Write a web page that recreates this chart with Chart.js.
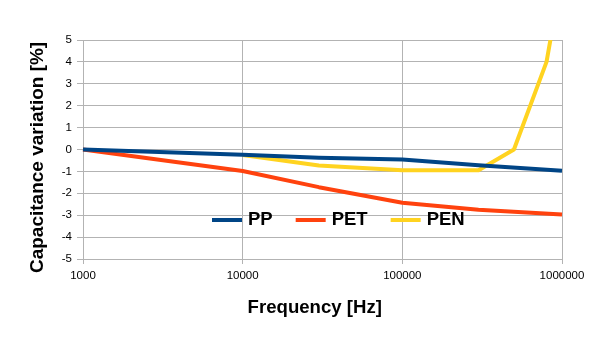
<!DOCTYPE html>
<html><head><meta charset="utf-8">
<script src="https://cdn.jsdelivr.net/npm/chart.js@4.4.0/dist/chart.umd.min.js"></script>
<style>html,body{margin:0;padding:0;background:#fff;} canvas{display:block;}</style>
</head><body>
<canvas id="c" width="605" height="340"></canvas>
<script>
const frequencyTicks = [1000, 10000, 100000, 1000000];
const frequencyTickLabels = ['1000', '10000', '100000', '1000000'];
const seriesNames = ['PP', 'PET', 'PEN'];
const ppFreq = [1000, 10000, 30000, 100000, 300000, 1000000];
const ppValues = [0, -0.24, -0.38, -0.46, -0.72, -0.97];
const petFreq = [1000, 10000, 30000, 100000, 300000, 1000000];
const petValues = [0, -0.98, -1.72, -2.43, -2.75, -2.97];
const penFreq = [10000, 30000, 100000, 300000, 500000, 800000, 1000000];
const penValues = [-0.25, -0.73, -0.95, -0.95, 0, 4, 8];
const yMin = -5, yMax = 5, yStep = 1;
const xTitle = 'Frequency [Hz]';
const yTitle = 'Capacitance variation [%]';
const seriesColors = ['#004586', '#ff420e', '#ffd320'];

Chart.defaults.font.family = "'Liberation Sans', Arial, sans-serif";
Chart.defaults.color = '#000';

function pts(f, v) { return f.map((x, i) => ({ x: x, y: v[i] })); }

const legendPlugin = {
  id: 'inlineLegend',
  afterDraw(chart) {
    const ctx = chart.ctx;
    const y = 220;
    let x = 212;
    ctx.save();
    ctx.font = "bold 18.5px 'Liberation Sans', Arial, sans-serif";
    ctx.textBaseline = 'middle';
    ctx.textAlign = 'left';
    chart.data.datasets.forEach(ds => {
      ctx.strokeStyle = ds.borderColor;
      ctx.lineWidth = 4;
      ctx.lineCap = 'butt';
      ctx.beginPath(); ctx.moveTo(x, y); ctx.lineTo(x + 30, y); ctx.stroke();
      x += 36;
      ctx.fillStyle = '#000';
      ctx.fillText(ds.label, x, y);
      x += ctx.measureText(ds.label).width + 23;
    });
    ctx.restore();
  }
};

const common = { borderWidth: 4, pointRadius: 0, tension: 0, fill: false,
  borderJoinStyle: 'round', borderCapStyle: 'butt',
  clip: { left: 3, top: 0, right: 3, bottom: 3 } };

new Chart(document.getElementById('c'), {
  type: 'line',
  data: {
    datasets: [
      Object.assign({ label: seriesNames[0], data: pts(ppFreq, ppValues), borderColor: seriesColors[0], backgroundColor: seriesColors[0] }, common),
      Object.assign({ label: seriesNames[1], data: pts(petFreq, petValues), borderColor: seriesColors[1], backgroundColor: seriesColors[1] }, common),
      Object.assign({ label: seriesNames[2], data: pts(penFreq, penValues), borderColor: seriesColors[2], backgroundColor: seriesColors[2] }, common)
    ]
  },
  options: {
    responsive: false,
    animation: false,
    devicePixelRatio: 1,
    layout: { padding: { left: 20, right: 43, top: 40, bottom: 15 } },
    plugins: { legend: { display: false }, tooltip: { enabled: false } },
    scales: {
      x: {
        type: 'logarithmic', min: 1000, max: 1000000,
        afterBuildTicks(s) { s.ticks = frequencyTicks.map(v => ({ value: v })); },
        ticks: { callback: (v) => frequencyTickLabels[frequencyTicks.indexOf(v)], color: '#000',
          font: { size: 11.5 }, padding: 5, maxRotation: 0, autoSkip: false },
        grid: { color: '#b3b3b3', tickLength: 5 },
        border: { color: '#b3b3b3' },
        title: { display: true, text: xTitle + '   ', color: '#000',
          font: { size: 18.6, weight: 'bold' }, padding: { top: 0, bottom: 5.8 } },
        afterFit(s) { s.height = 66; }
      },
      y: {
        min: yMin, max: yMax,
        ticks: { stepSize: yStep, color: '#000', font: { size: 11.5 }, padding: 5 },
        grid: { color: '#b3b3b3', tickLength: 6 },
        border: { color: '#b3b3b3' },
        title: { display: true, text: yTitle + '   ', color: '#000',
          font: { size: 19, weight: 'bold' }, padding: { top: 6, bottom: 0 } },
        afterFit(s) { s.width = 63; }
      }
    }
  },
  plugins: [legendPlugin]
});
</script>
</body></html>
